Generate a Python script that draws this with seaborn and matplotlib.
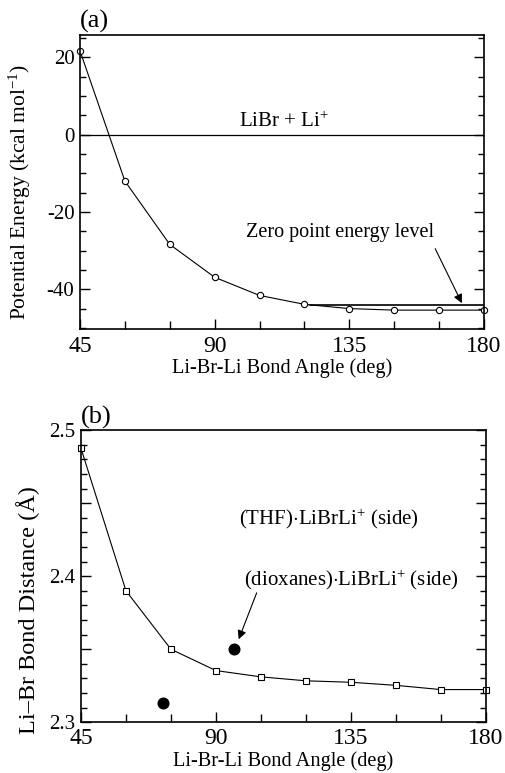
import matplotlib
matplotlib.use("Agg")
import matplotlib.pyplot as plt
import numpy as np
import pandas as pd
import seaborn as sns
from matplotlib.ticker import MultipleLocator, FuncFormatter

# Li-Br-Li bond angle scan (deg)
angles = [45, 60, 75, 90, 105, 120, 135, 150, 165, 180]
# (a) potential energy relative to LiBr + Li+ (kcal/mol)
energy = [21.7, -12.0, -28.4, -36.9, -41.6, -43.9, -45.0, -45.4, -45.4, -45.4]
# (b) Li-Br bond distance (Angstrom)
bond_dist = [2.4875, 2.390, 2.350, 2.3354, 2.3311, 2.3284, 2.3274, 2.3253, 2.3224, 2.3224]
# solvated side complexes: (THF) and (dioxanes)
solv_angles = [72.4, 96.1]
solv_dist = [2.313, 2.3503]
# reference levels
asymptote = 0.0
zpe_level = -44.2
zpe_span = [122, 180]

sns.set_theme(style="ticks")
plt.rcParams.update({
    "font.family": ["Liberation Serif", "DejaVu Serif"],
    "mathtext.fontset": "custom",
    "mathtext.rm": "Liberation Serif",
    "mathtext.it": "Liberation Serif:italic",
    "mathtext.bf": "Liberation Serif:bold",
    "axes.unicode_minus": False,
    "axes.linewidth": 1.2,
    "axes.edgecolor": "black",
    "text.color": "black",
    "axes.labelcolor": "black",
    "xtick.color": "black",
    "ytick.color": "black",
})

fig = plt.figure(figsize=(5.05, 7.73), dpi=100)
ax1 = fig.add_axes([0.1584, 0.5748, 0.8000, 0.3800])
ax2 = fig.add_axes([0.1604, 0.0656, 0.8014, 0.3780])

df_a = pd.DataFrame({"angle": angles, "energy": energy})
df_b = pd.DataFrame({"angle": angles, "dist": bond_dist})
df_s = pd.DataFrame({"angle": solv_angles, "dist": solv_dist})

# ---- panel (a) ----
sns.lineplot(data=df_a, x="angle", y="energy", ax=ax1, color="black", lw=0.8,
             marker="o", markersize=4.5, markerfacecolor="white",
             markeredgecolor="black", markeredgewidth=0.8, clip_on=False)
ax1.axhline(asymptote, color="black", lw=0.9)
ax1.plot(zpe_span, [zpe_level, zpe_level], color="black", lw=1.2)
ax1.text(113, 3.4, r"LiBr + Li$^{+}$", ha="center", va="center", fontsize=15)
ax1.text(132, -25.4, "Zero point energy level", ha="center", va="center", fontsize=14.5)
ax1.annotate("", xy=(172.6, -43.6), xytext=(163.7, -29.5),
             arrowprops=dict(arrowstyle="-|>", color="black", lw=0.8,
                             mutation_scale=13, shrinkA=0, shrinkB=0))
ax1.set_xlim(45, 180)
ax1.set_ylim(-50.2, 25.8)
ax1.yaxis.set_major_locator(MultipleLocator(20))
ax1.yaxis.set_minor_locator(MultipleLocator(5))
ax1.set_ylabel(r"Potential Energy (kcal mol$^{-1}$)", fontsize=15.5)
ax1.yaxis.set_label_coords(-0.116, 0.464)
ax1.text(0.0, 1.008, "(a)", transform=ax1.transAxes, ha="left", va="bottom", fontsize=19)

# ---- panel (b) ----
sns.lineplot(data=df_b, x="angle", y="dist", ax=ax2, color="black", lw=0.8,
             marker="s", markersize=4.5, markerfacecolor="white",
             markeredgecolor="black", markeredgewidth=0.8, clip_on=False)
sns.scatterplot(data=df_s, x="angle", y="dist", ax=ax2, color="black", s=75,
                edgecolor="black", linewidth=0, zorder=5)
ax2.text(127.7, 2.4393, r"(THF)$\cdot$LiBrLi$^{+}$ (side)", ha="center", va="center", fontsize=15)
ax2.text(135.3, 2.3973, r"(dioxanes)$\cdot$LiBrLi$^{+}$ (side)", ha="center", va="center", fontsize=15)
ax2.annotate("", xy=(97.6, 2.3568), xytext=(103.6, 2.3886),
             arrowprops=dict(arrowstyle="-|>", color="black", lw=0.8,
                             mutation_scale=13, shrinkA=0, shrinkB=0))
ax2.set_xlim(45, 180)
ax2.set_ylim(2.3, 2.5)
ax2.yaxis.set_major_locator(MultipleLocator(0.05))
ax2.yaxis.set_minor_locator(MultipleLocator(0.01))
ax2.yaxis.set_major_formatter(FuncFormatter(
    lambda v, p: f"{v:.1f}" if abs(v * 10 - round(v * 10)) < 1e-6 else ""))
ax2.set_ylabel("Li\u2013Br Bond Distance (\u00c5)", fontsize=17.5)
ax2.yaxis.set_label_coords(-0.101, 0.384)
ax2.text(0.0, 1.003, "(b)", transform=ax2.transAxes, ha="left", va="bottom", fontsize=19)

for ax, xpad, lpad in ((ax1, 5, 1), (ax2, 4, 1.5)):
    ax.xaxis.set_major_locator(MultipleLocator(45))
    ax.xaxis.set_minor_locator(MultipleLocator(15))
    ax.set_xlabel("Li-Br-Li Bond Angle (deg)", fontsize=14.7, labelpad=lpad)
    ax.tick_params(axis="x", which="major", direction="in", top=False, bottom=True,
                   length=7.5, width=1.0, labelsize=17, pad=xpad)
    ax.tick_params(axis="x", which="minor", direction="in", top=False, bottom=True,
                   length=6, width=1.0)
    ax.tick_params(axis="y", which="major", direction="in", left=True, right=True,
                   length=7, width=1.0, labelsize=15, pad=4)
    ax.tick_params(axis="y", which="minor", direction="in", left=True, right=True,
                   length=4.5, width=1.0)
    for s in ax.spines.values():
        s.set_visible(True)
        s.set_linewidth(1.2)

fig.savefig("out.png", dpi=100)
